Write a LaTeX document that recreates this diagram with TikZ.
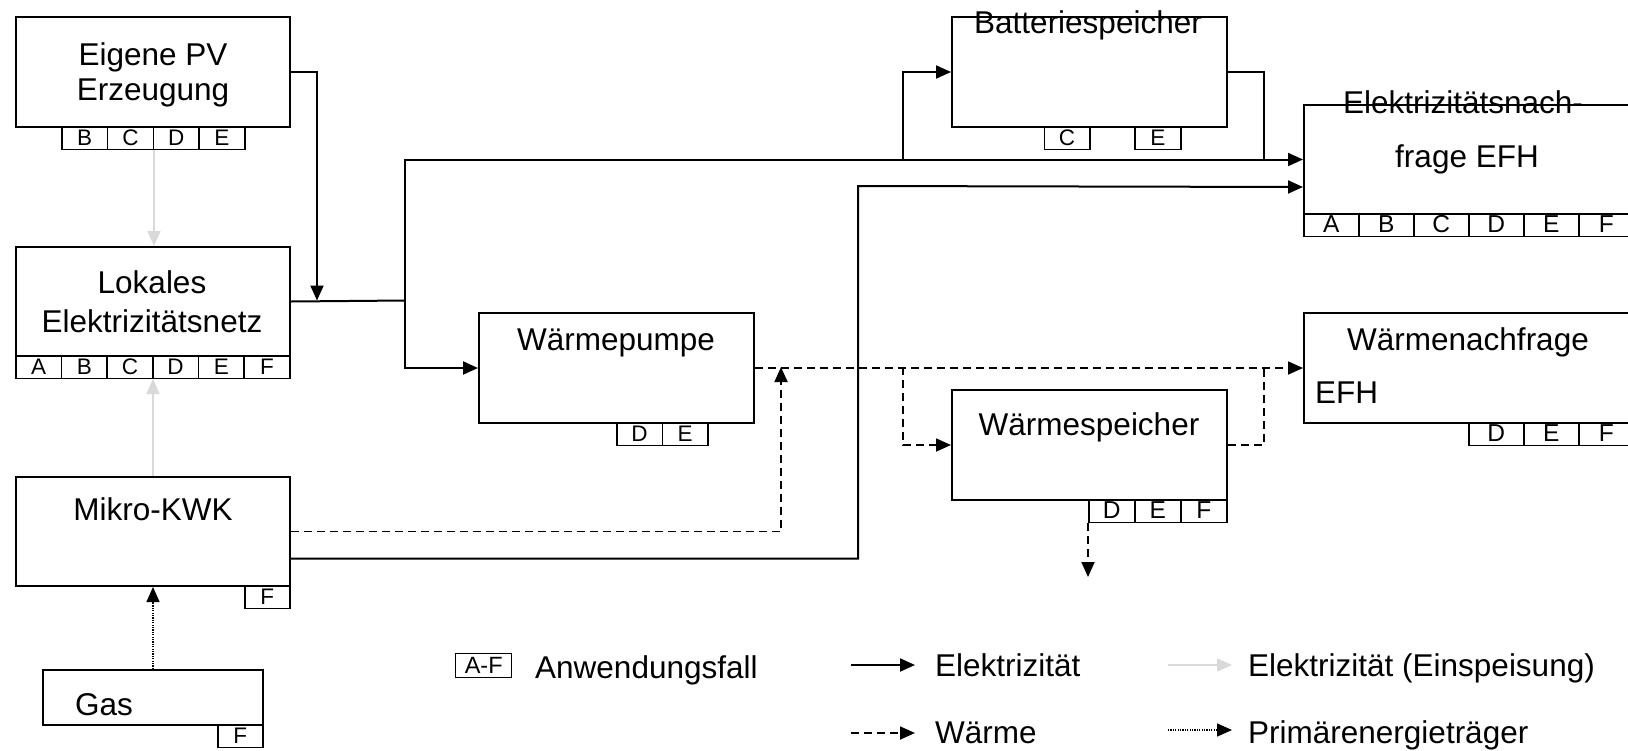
\documentclass[tikz,border=0pt]{standalone}
\usepackage{fontspec}
\setmainfont{Liberation Sans}
\usetikzlibrary{arrows.meta,calc}
\definecolor{feedgray}{HTML}{D9D9D9}
\begin{document}
\begin{tikzpicture}[x=1pt,y=-1pt,
  box/.style={draw, line width=2pt, inner sep=0pt, anchor=north west},
  tag/.style={draw, line width=1.5pt, inner sep=0pt, anchor=north west, minimum height=22.5pt, text depth=0pt, text height=14pt, font=\fontsize{22.5}{22.5}\selectfont},
  tagl/.style={tag, text height=15pt, font=\fontsize{24.5}{24.5}\selectfont},
  lbl/.style={anchor=base, inner sep=0pt, font=\fontsize{31.5}{36}\selectfont},
  tip/.style={-{Triangle[length=15pt,width=13pt]}},
  ln/.style={line width=2pt},
  el/.style={ln, tip},
  heatl/.style={line width=1.8pt, dash pattern=on 8pt off 5pt},
  heat/.style={heatl, tip},
  feed/.style={line width=1.5pt, draw=feedgray, tip},
  prim/.style={line width=1.5pt, dash pattern=on 1.2pt off 1.2pt, tip}
]
\fill[white] (0,0) rectangle (1628,750);
\clip (0,0) rectangle (1628,750);

% Eigene PV
\node[box, minimum width=274pt, minimum height=110pt] (pv) at (15,16) {};
\node[lbl] (pvt1) at (153,65) {Eigene PV};
\node[lbl] (pvt2) at (153,100) {Erzeugung};
\foreach \l [count=\i from 0] in {B,C,D,E}
  \node[tag, minimum width=45.75pt] (pv\l) at ({61+\i*45.75},126) {\l};

% Lokales Elektrizitaetsnetz
\node[box, minimum width=274pt, minimum height=109pt] (lok) at (15,246) {};
\node[lbl] (lokt1) at (152,293) {Lokales};
\node[lbl] (lokt2) at (152,332) {Elektrizitätsnetz};
\foreach \l [count=\i from 0] in {A,B,C,D,E,F}
  \node[tag, minimum width=45.67pt] (lok\l) at ({15+\i*45.67},355) {\l};

% Mikro-KWK
\node[box, minimum width=274pt, minimum height=109pt] (mk) at (15,476) {};
\node[lbl] (mkt) at (153,520) {Mikro-KWK};
\node[tag, minimum width=45pt] (mkF) at (244,585) {F};

% Gas
\node[box, minimum width=220pt, minimum height=55pt] (gas) at (42,669) {};
\node[lbl, anchor=base west] (gast) at (75,715) {Gas};
\node[tag, minimum width=45pt] (gasF) at (217,724) {F};

% Waermepumpe
\node[box, minimum width=275pt, minimum height=110pt] (wp) at (478,312) {};
\node[lbl] (wpt) at (616,350) {Wärmepumpe};
\node[tag, minimum width=45.5pt] (wpD) at (616,422) {D};
\node[tag, minimum width=45.5pt] (wpE) at (661.5,422) {E};

% Batteriespeicher
\node[box, minimum width=275pt, minimum height=110pt] (bat) at (951,16) {};
\node[lbl] (batt) at (1088,33) {Batteriespeicher};
\node[tag, minimum width=45.5pt] (batC) at (1043.5,126) {C};
\node[tag, minimum width=46pt] (batE) at (1134,126) {E};

% Elektrizitaetsnachfrage
\node[box, minimum width=340pt, minimum height=109pt] (en) at (1303,104) {};
\node[lbl] (ent1) at (1463,113) {Elektrizitätsnach-};
\node[lbl] (ent2) at (1467,167) {frage EFH};
\foreach \l [count=\i from 0] in {A,B,C,D,E,F}
  \node[tagl, minimum width=55pt] (en\l) at ({1303+\i*55},213) {\l};

% Waermenachfrage
\node[box, minimum width=340pt, minimum height=110pt] (wn) at (1303,312) {};
\node[lbl] (wnt1) at (1468,350) {Wärmenachfrage};
\node[lbl, anchor=base west] (wnt2) at (1315,403) {EFH};
\foreach \l [count=\i from 0] in {D,E,F}
  \node[tagl, minimum width=55pt] (wn\l) at ({1468+\i*55},422) {\l};

% Waermespeicher
\node[box, minimum width=275pt, minimum height=110pt] (ws) at (951,389) {};
\node[lbl] (wst) at (1089,435) {Wärmespeicher};
\foreach \l [count=\i from 0] in {D,E,F}
  \node[tagl, minimum width=46pt] (ws\l) at ({1088+\i*46},499) {\l};

% Elektrizitaet connectors
\coordinate (j1) at (317,300.5);
\coordinate (j2) at (405,300.5);
\draw[el] (pv.east) -| (j1);
\draw[ln] (lok.east) -- (j2);
\draw[el] (j2) |- (wp.west);
\draw[el] (j2) |- (en.west);
\coordinate (b1) at (903,158.5);
\draw[el] (b1) |- (bat.west);
\coordinate (b2) at (1264,158.5);
\draw[ln] (bat.east) -| (b2);
\coordinate (k1) at (858,186);
\draw[el] ([yshift=-27pt]mk.east) -| (k1) -- ([yshift=-27.5pt]en.west);

% Waerme connectors
\coordinate (h1) at (781,367);
\draw[heat] (mk.east) -| (h1);
\draw[heat] (wp.east) -- (wn.west);
\coordinate (h2) at (903,367);
\draw[heat] (h2) |- (ws.west);
\coordinate (h3) at (1264,367);
\draw[heatl] (ws.east) -| (h3);
\coordinate (h4) at (1088,577);
\draw[heat] (wsD.south west) -- (h4);

% Primaerenergie
\draw[prim] (gas.north) -- (mk.south);

% Einspeisung
\draw[feed] (pvC.south east) -- (pvC.south east |- lok.north);
\draw[feed] (mk.north) -- (mk.north |- lokC.south);

% Legend
\node[draw, line width=1.2pt, minimum width=56pt, minimum height=24pt, inner sep=0pt, font=\fontsize{23.5}{23.5}\selectfont] (af) at (483.7,665.3) {A-F};
\node[lbl, anchor=base west] (aft) at (535,678) {Anwendungsfall};
\coordinate (le1) at (851,665);
\coordinate (le2) at (915,665);
\draw[el] (le1) -- (le2);
\node[lbl, anchor=base west] (let) at (935,676) {Elektrizität};
\coordinate (lw1) at (851,733);
\coordinate (lw2) at (915,733);
\draw[heat] (lw1) -- (lw2);
\node[lbl, anchor=base west] (lwt) at (935,743) {Wärme};
\coordinate (lf1) at (1168,665);
\coordinate (lf2) at (1232,665);
\draw[feed] (lf1) -- (lf2);
\node[lbl, anchor=base west] (lft) at (1248,676) {Elektrizität (Einspeisung)};
\coordinate (lp1) at (1168,730);
\coordinate (lp2) at (1232,730);
\draw[prim] (lp1) -- (lp2);
\node[lbl, anchor=base west] (lpt) at (1248,743) {Primärenergieträger};
\end{tikzpicture}
\end{document}
